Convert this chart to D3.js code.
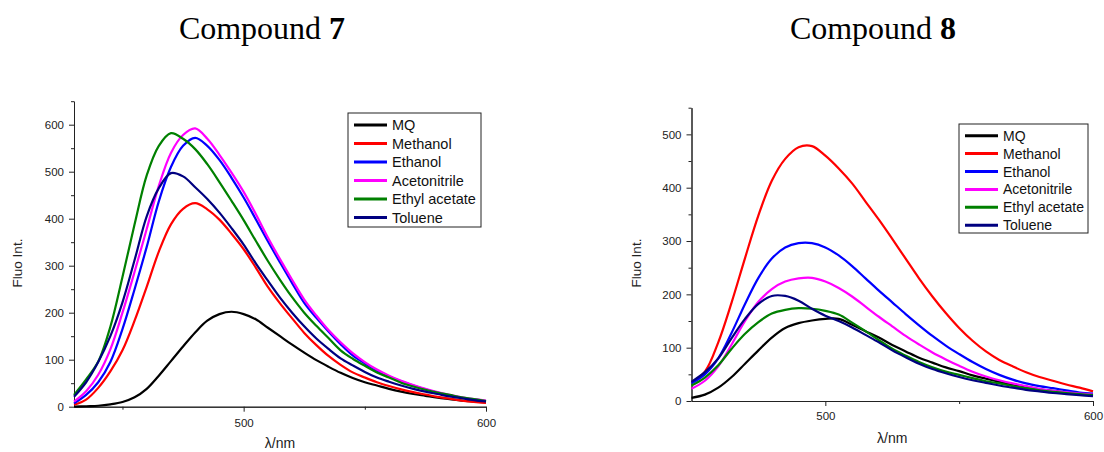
<!DOCTYPE html>
<html>
<head>
<meta charset="utf-8">
<script src="https://cdn.jsdelivr.net/npm/d3@7"></script>
<style>
  body { margin: 0; background: #fff; }
  svg { display: block; }
</style>
</head>
<body>
<svg id="chart" width="1104" height="452"></svg>
<script>
// series names + colours (legend order = draw order)
const solvents = ["MQ", "Methanol", "Ethanol", "Acetonitrile", "Ethyl acetate", "Toluene"];
const colors = ["#000000", "#ff0000", "#0000ff", "#ff00ff", "#008000", "#000080"];

// Compound 7
const wl7 = [430,435,440,445,450,455,460,465,470,475,480,485,490,495,500,505,510,515,520,525,530,535,540,545,550,555,560,565,570,575,580,585,590,595,600];
const mq7 = [0,1,2,5,10,20,38,66,97,128,158,183,197,202,197,186,168,150,132,115,99,85,72,61,52,45,38,32,27,23,19,16,13,11,9];
const methanol7 = [4,15,40,75,120,183,255,330,388,421,433,420,398,368,335,296,255,220,188,157,131,108,89,73,62,52,44,37,31,26,21,17,13,10,8];
const ethanol7 = [7,25,52,95,165,250,340,437,510,555,572,555,525,487,445,399,352,307,263,221,189,160,133,109,92,77,64,54,45,37,30,24,19,15,12];
const acetonitrile7 = [11,33,68,122,200,287,378,470,540,578,592,570,536,498,457,410,360,314,270,228,194,163,137,114,95,79,66,55,46,38,31,25,20,16,13];
const ethylAcetate7 = [25,58,96,170,276,388,492,555,582,570,548,516,478,438,397,353,310,270,233,200,172,146,120,102,87,73,62,51,43,36,30,25,20,16,12];
const toluene7 = [21,52,95,150,222,312,405,465,497,490,467,442,413,380,345,305,268,232,200,171,145,123,103,88,74,62,53,45,38,32,27,22,18,14,11];

// Compound 8
const wl8 = [450,455,460,465,470,475,480,485,490,495,500,505,510,515,520,525,530,535,540,545,550,555,560,565,570,575,580,585,590,595,600];
const mq8 = [6,12,25,45,70,95,119,137,146,151,154,154,143,131,119,105,93,81,72,63,56,48,42,36,31,27,22,19,16,13,11];
const methanol8 = [35,55,110,185,268,348,413,454,476,478,460,436,408,374,340,304,267,230,196,165,137,113,93,77,65,54,45,38,31,25,18];
const ethanol8 = [33,50,80,128,182,231,267,288,296,296,288,273,253,230,207,185,163,142,122,104,88,73,60,49,40,33,28,24,20,16,14];
const acetonitrile8 = [23,38,65,106,150,186,210,224,230,231,224,212,196,177,158,140,122,106,91,78,66,55,46,39,33,28,23,19,16,14,12];
const ethylAcetate8 = [29,44,67,98,126,148,164,171,174,173,169,162,147,131,114,98,85,73,63,55,49,43,37,33,28,24,20,17,15,13,11];
const toluene8 = [36,54,80,118,154,182,197,197,188,173,160,150,138,124,110,95,82,70,60,52,45,39,34,29,25,21,18,15,13,11,9];

// axis ticks
const yMajor7 = [0,100,200,300,400,500,600];
const yMinor7 = [50,150,250,350,450,550,650];
const yMajor8 = [0,100,200,300,400,500];
const yMinor8 = [50,150,250,350,450,550];
const xMajor = [500, 600];
const xMinor7 = [450, 550];
const xMinor8 = [550];

const svg = d3.select("#chart");
const sans = "'Liberation Sans', Arial, sans-serif";

function styleAxis(sel) {
  sel.select(".domain").attr("stroke", "#222").attr("stroke-width", 1);
  sel.selectAll(".tick line").attr("stroke", "#222");
  sel.selectAll(".tick text")
    .attr("fill", "#222")
    .style("font-family", sans)
    .style("font-size", "11.5px");
}

function drawPanel(p) {
  const x = d3.scaleLinear().domain(p.xDomain).range([p.left, p.right]);
  const y = d3.scaleLinear().domain(p.yDomain).range([p.bottom, p.top]);
  const g = svg.append("g");

  // minor ticks first (no labels)
  g.append("g")
    .attr("transform", `translate(0,${p.bottom})`)
    .call(d3.axisBottom(x).tickValues(p.xMinor).tickSize(3).tickSizeOuter(0).tickFormat(""))
    .call(styleAxis);
  g.append("g")
    .attr("transform", `translate(${p.left},0)`)
    .call(d3.axisLeft(y).tickValues(p.yMinor).tickSize(3).tickSizeOuter(0).tickFormat(""))
    .call(styleAxis);

  g.append("g")
    .attr("transform", `translate(0,${p.bottom})`)
    .call(d3.axisBottom(x).tickValues(xMajor).tickSize(5).tickSizeOuter(0).tickPadding(p.xPad))
    .call(styleAxis);
  g.append("g")
    .attr("transform", `translate(${p.left},0)`)
    .call(d3.axisLeft(y).tickValues(p.yMajor).tickSize(5).tickSizeOuter(0).tickPadding(5))
    .call(styleAxis);

  const line = d3.line()
    .x((d) => x(d[0]))
    .y((d) => y(d[1]))
    .curve(d3.curveCatmullRom.alpha(0.5));

  p.series.forEach((vals, i) => {
    g.append("path")
      .datum(p.wl.map((w, j) => [w, vals[j]]))
      .attr("fill", "none")
      .attr("stroke", colors[i])
      .attr("stroke-width", 2.2)
      .attr("stroke-linejoin", "round")
      .attr("d", line);
  });

  // axis titles
  g.append("text")
    .attr("transform", `translate(${p.yTitleX},263) rotate(-90)`)
    .attr("text-anchor", "middle")
    .style("font-family", sans)
    .style("font-size", "13.5px")
    .attr("fill", "#222")
    .text("Fluo Int.");
  g.append("text")
    .attr("x", (p.left + p.right) / 2)
    .attr("y", p.xTitleY)
    .attr("text-anchor", "middle")
    .style("font-family", sans)
    .style("font-size", "14px")
    .attr("fill", "#222")
    .text("λ/nm");

  // compound title
  const t = g.append("text")
    .attr("x", p.titleX)
    .attr("y", 39)
    .attr("text-anchor", "middle")
    .style("font-family", "'Liberation Serif', 'Times New Roman', serif")
    .style("font-size", "32px")
    .attr("fill", "#000");
  t.append("tspan").text("Compound ");
  t.append("tspan").attr("font-weight", "bold").text(p.num);

  // legend
  const lg = g.append("g").attr("transform", `translate(${p.lg.x},${p.lg.y})`);
  lg.append("rect")
    .attr("width", p.lg.w)
    .attr("height", p.lg.h)
    .attr("fill", "#fff")
    .attr("stroke", "#222")
    .attr("stroke-width", 1);
  solvents.forEach((name, i) => {
    const row = lg.append("g")
      .attr("transform", `translate(0,${p.lg.first + i * p.lg.step})`);
    row.append("line")
      .attr("x1", 6).attr("x2", 39)
      .attr("stroke", colors[i])
      .attr("stroke-width", 3);
    row.append("text")
      .attr("x", 44)
      .attr("dy", "0.36em")
      .style("font-family", sans)
      .style("font-size", p.lg.font)
      .attr("fill", "#111")
      .text(name);
  });
}

drawPanel({
  wl: wl7,
  series: [mq7, methanol7, ethanol7, acetonitrile7, ethylAcetate7, toluene7],
  xDomain: [430, 600], yDomain: [0, 650],
  left: 74, right: 486, top: 101.2, bottom: 406.7,
  yMajor: yMajor7, yMinor: yMinor7, xMinor: xMinor7,
  xPad: 7, yTitleX: 22, xTitleY: 448,
  titleX: 262, num: "7",
  lg: { x: 348, y: 113, w: 133, h: 114, first: 12, step: 18.5, font: "14.5px" }
});

drawPanel({
  wl: wl8,
  series: [mq8, methanol8, ethanol8, acetonitrile8, ethylAcetate8, toluene8],
  xDomain: [450, 600], yDomain: [0, 550],
  left: 691.5, right: 1093, top: 107.7, bottom: 401,
  yMajor: yMajor8, yMinor: yMinor8, xMinor: xMinor8,
  xPad: 6, yTitleX: 641, xTitleY: 443,
  titleX: 873, num: "8",
  lg: { x: 959, y: 124, w: 129, h: 109, first: 11.7, step: 17.9, font: "14px" }
});
</script>
</body>
</html>
